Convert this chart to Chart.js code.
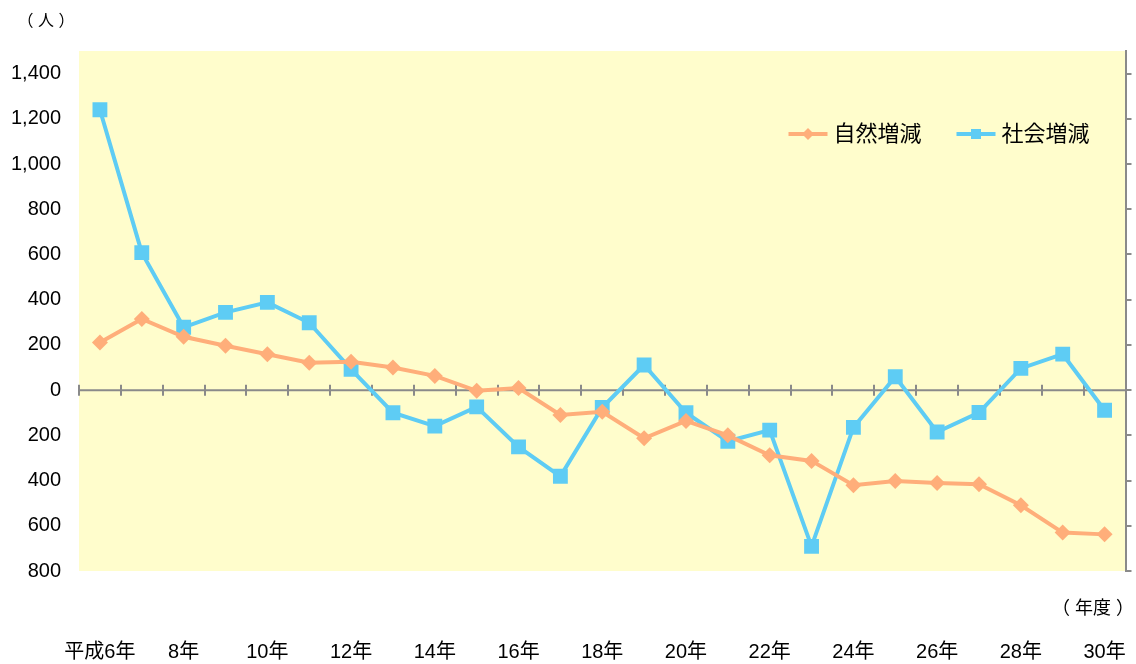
<!DOCTYPE html>
<html>
<head>
<meta charset="utf-8">
<script src="https://cdn.jsdelivr.net/npm/chart.js@4/dist/chart.umd.min.js"></script>
<style>
  body { margin: 0; background: #fff; }
  canvas { display: block; }
</style>
</head>
<body>
<canvas id="chart" width="1136" height="664"></canvas>
<script>
// 年度 (平成6年〜30年)
const categories = ['平成6年', '7年', '8年', '9年', '10年', '11年', '12年', '13年', '14年', '15年',
  '16年', '17年', '18年', '19年', '20年', '21年', '22年', '23年', '24年', '25年',
  '26年', '27年', '28年', '29年', '30年'];

// 自然増減
const naturalChange = [211, 315, 236, 196, 159, 121, 125, 100, 63, -3,
  9, -110, -96, -213, -136, -200, -288, -313, -421, -402,
  -411, -416, -509, -630, -638];

// 社会増減
const socialChange = [1240, 608, 278, 344, 388, 298, 92, -100, -159, -74,
  -251, -381, -77, 111, -100, -226, -177, -691, -165, 59,
  -185, -99, 96, 159, -89];

const Y_MIN = -800;
const Y_MAX = 1500;
const Y_STEP = 200;

const ORANGE = '#FFAE7A';
const BLUE = '#5ECCF4';
const PLOT_BG = '#FFFDCC';
const AXIS_GRAY = '#8a8a8a';
const FONT = '"Liberation Sans", "Noto Sans CJK JP", Arial, sans-serif';

Chart.defaults.font.family = FONT;
Chart.defaults.color = '#000';

// yellow plot area, zero line with tick marks, axis captions, legend
const decorations = {
  id: 'decorations',
  beforeDraw(chart) {
    const { ctx, chartArea: a } = chart;
    ctx.save();
    ctx.fillStyle = PLOT_BG;
    ctx.fillRect(a.left, a.top, a.right - a.left, a.bottom - a.top);
    ctx.restore();
  },
  beforeDatasetsDraw(chart) {
    const { ctx, chartArea: a, scales } = chart;
    const y0 = scales.y.getPixelForValue(0);
    const step = (a.right - a.left) / categories.length;
    ctx.save();
    ctx.strokeStyle = AXIS_GRAY;
    ctx.lineWidth = 2;
    ctx.beginPath();
    ctx.moveTo(a.left, y0);
    ctx.lineTo(a.right, y0);
    for (let i = 0; i < categories.length; i++) {
      const x = Math.round(scales.x.getPixelForValue(i) - step / 2);
      ctx.moveTo(x, y0 - 5.5);
      ctx.lineTo(x, y0 + 5.5);
    }
    ctx.stroke();
    ctx.restore();
  },
  afterDraw(chart) {
    const { ctx, chartArea: a } = chart;
    ctx.save();
    ctx.fillStyle = '#000';
    ctx.textBaseline = 'middle';

    ctx.font = '16px ' + FONT;
    ctx.textAlign = 'center';
    ctx.fillText('（ 人 ）', 46, 22);

    ctx.font = '18px ' + FONT;
    ctx.textAlign = 'right';
    ctx.fillText('（ 年度 ）', chart.width - 2, 609);

    // legend
    ctx.font = '22px ' + FONT;
    ctx.textAlign = 'left';
    const ly = a.top + 83;
    let x = a.right - 337;
    chart.data.datasets.forEach(ds => {
      const lineW = 39;
      ctx.strokeStyle = ds.borderColor;
      ctx.lineWidth = 4;
      ctx.beginPath();
      ctx.moveTo(x, ly);
      ctx.lineTo(x + lineW, ly);
      ctx.stroke();
      const cx = x + lineW / 2;
      ctx.fillStyle = ds.backgroundColor;
      ctx.beginPath();
      if (ds.pointStyle === 'rectRot') {
        ctx.moveTo(cx, ly - 6);
        ctx.lineTo(cx + 6, ly);
        ctx.lineTo(cx, ly + 6);
        ctx.lineTo(cx - 6, ly);
        ctx.closePath();
      } else {
        ctx.rect(cx - 5, ly - 5, 10, 10);
      }
      ctx.fill();
      ctx.fillStyle = '#000';
      ctx.fillText(ds.label, x + lineW + 6, ly + 1);
      x += lineW + 6 + ctx.measureText(ds.label).width + 35;
    });
    ctx.restore();
  }
};

new Chart(document.getElementById('chart'), {
  type: 'line',
  data: {
    labels: categories,
    datasets: [
      {
        label: '自然増減',
        data: naturalChange,
        borderColor: ORANGE,
        backgroundColor: ORANGE,
        borderWidth: 4,
        pointStyle: 'rectRot',
        pointRadius: 8,
        pointBorderWidth: 0,
        tension: 0
      },
      {
        label: '社会増減',
        data: socialChange,
        borderColor: BLUE,
        backgroundColor: BLUE,
        borderWidth: 4,
        pointStyle: 'rect',
        pointRadius: 10.5,
        pointBorderWidth: 0,
        tension: 0
      }
    ]
  },
  options: {
    responsive: false,
    animation: false,
    layout: { padding: { top: 51, left: 0, right: 0, bottom: 0 } },
    plugins: {
      legend: { display: false },
      tooltip: { enabled: false }
    },
    scales: {
      x: {
        offset: true,
        // invisible tick marks only used to push the labels down
        grid: { drawOnChartArea: false, drawTicks: true, tickLength: 69, color: 'rgba(0,0,0,0)' },
        border: { display: false },
        ticks: {
          autoSkip: false,
          maxRotation: 0,
          padding: 0,
          font: { size: 20 },
          color: '#000',
          callback: (v, i) => (i % 2 === 0 ? categories[i] : '')
        },
        afterFit: s => { s.height = 93; }
      },
      y: {
        min: Y_MIN,
        max: Y_MAX,
        grid: { display: false, drawTicks: false },
        border: { display: false },
        ticks: {
          stepSize: Y_STEP,
          includeBounds: false,
          padding: 18,
          font: { size: 20 },
          color: '#000',
          callback: v => Math.abs(v).toLocaleString('en-US')
        },
        afterFit: s => { s.width = 79; }
      },
      y2: {
        position: 'right',
        min: Y_MIN,
        max: Y_MAX,
        grid: { drawOnChartArea: false, tickLength: 6, color: AXIS_GRAY, lineWidth: 2 },
        border: { color: AXIS_GRAY, width: 2 },
        ticks: { display: false, stepSize: Y_STEP, includeBounds: false },
        afterFit: s => { s.width = 6; }
      }
    }
  },
  plugins: [decorations]
});
</script>
</body>
</html>
